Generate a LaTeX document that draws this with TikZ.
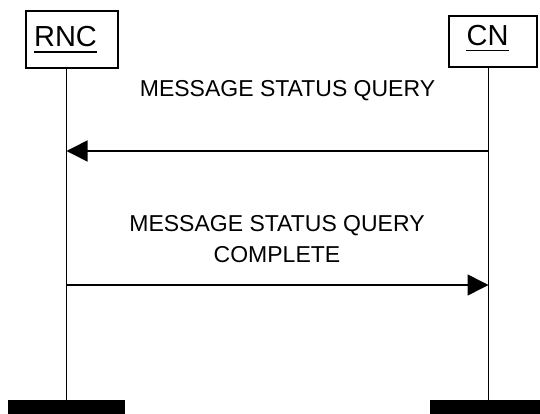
\documentclass[tikz,border=0pt]{standalone}
\usepackage{fontspec}
\setmainfont{Liberation Sans}
\usetikzlibrary{arrows.meta}
\begin{document}
\begin{tikzpicture}[x=1pt,y=-1pt,
  entbox/.style={draw,line width=1.3pt,inner sep=0pt},
  entlabel/.style={inner sep=0pt,font=\fontsize{29}{34}\selectfont},
  uline/.style={line width=1.6pt},
  lifeline/.style={line width=1.5pt},
  endbar/.style={fill=black,draw=none,inner sep=0pt,minimum width=117pt,minimum height=14pt},
  msgtext/.style={inner sep=0pt,align=center,font=\fontsize{23}{31.5}\selectfont},
  msg/.style={line width=1.5pt,-{Triangle[length=21pt,width=21pt]}}]
\useasboundingbox (0,0) rectangle (540,414);
% entity boxes
\node[entbox,minimum width=92pt,minimum height=57pt] (rncbox) at (72,39.5) {};
\node[entbox,minimum width=88pt,minimum height=51pt] (cnbox) at (493,41.5) {};
\node[entlabel,anchor=base] (rnclabel) at (65.5,47) {RNC};
\node[entlabel,anchor=base] (cnlabel) at (487.5,45.5) {CN};
\draw[uline] ([yshift=-5pt]rnclabel.base west) -- ([yshift=-5pt]rnclabel.base east);
\draw[uline] ([yshift=-5pt]cnlabel.base west) -- ([yshift=-5pt]cnlabel.base east);
% end bars
\node[endbar] (rncend) at (66.5,407) {};
\node[endbar] (cnend) at (488.5,407) {};
% lifelines
\draw[lifeline] (rncend.north |- rncbox.south) -- (rncend.north);
\draw[lifeline] (cnend.north |- cnbox.south) -- (cnend.north);
% messages
\coordinate (m1) at (0,151);
\coordinate (m2) at (0,285);
\draw[msg] (cnend.north |- m1) -- (rncend.north |- m1);
\draw[msg] (rncend.north |- m2) -- (cnend.north |- m2);
\node[msgtext,anchor=base] (t1) at (287.5,97) {MESSAGE STATUS QUERY};
\node[msgtext] (t2) at (277,239.25) {MESSAGE STATUS QUERY\\COMPLETE};
\end{tikzpicture}
\end{document}
